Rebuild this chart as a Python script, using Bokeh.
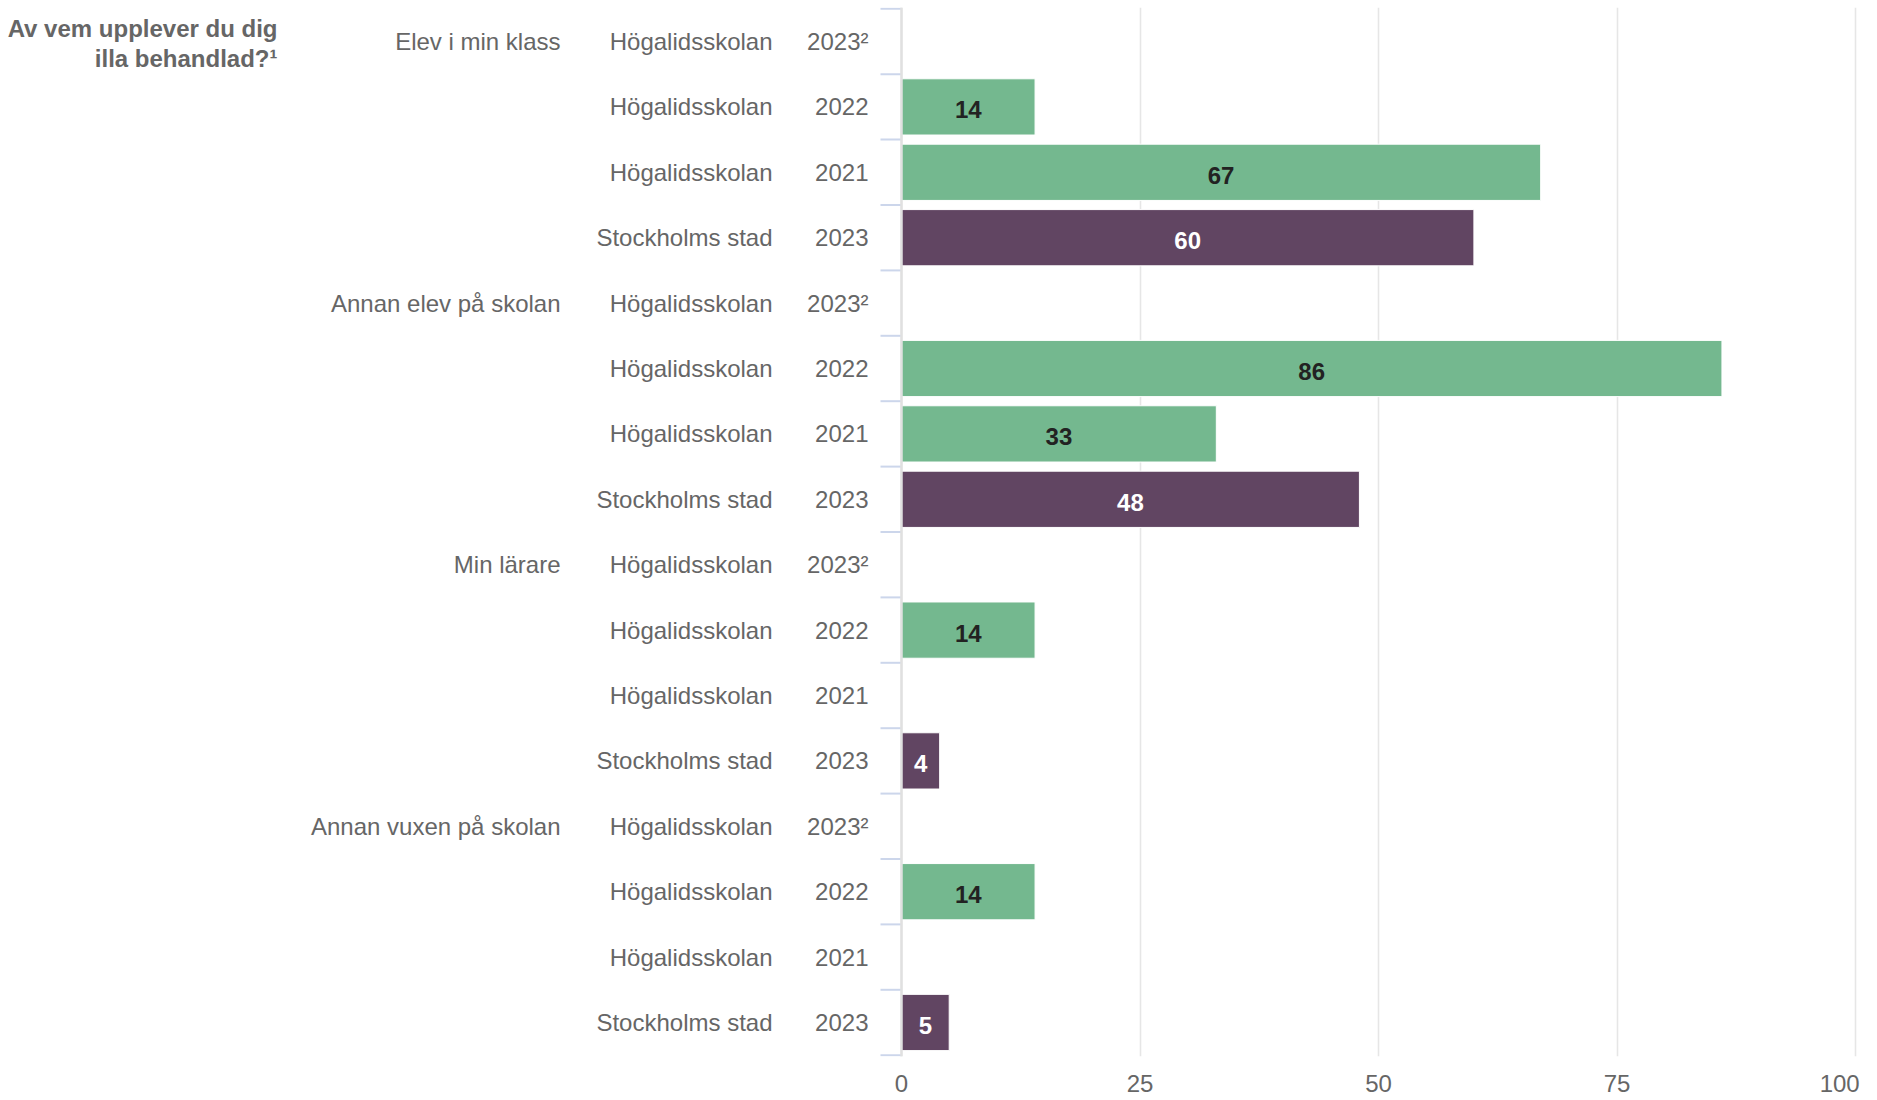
from bokeh.plotting import figure
from bokeh.models import ColumnDataSource, FixedTicker, Range1d, Span, Label
from bokeh.core.properties import value
from bokeh.embed import file_html
from bokeh.resources import INLINE

# ---- data ----
groups = ["Elev i min klass", "Annan elev på skolan", "Min lärare", "Annan vuxen på skolan"]
units = ["Högalidsskolan", "Högalidsskolan", "Högalidsskolan", "Stockholms stad"]
years = ["2023²", "2022", "2021", "2023"]
elev_i_min_klass = [None, 14, 67, 60]
annan_elev_pa_skolan = [None, 86, 33, 48]
min_larare = [None, 14, None, 4]
annan_vuxen_pa_skolan = [None, 14, None, 5]
x_ticks = [0, 25, 50, 75, 100]
title_lines = ["Av vem upplever du dig", "illa behandlad?¹"]

series = [elev_i_min_klass, annan_elev_pa_skolan, min_larare, annan_vuxen_pa_skolan]

# ---- styles ----
FONT = value("Liberation Sans")
GRAY = "#666666"
GREEN = "#74b88f"
PURPLE = "#614562"
unit_color = {"Högalidsskolan": GREEN, "Stockholms stad": PURPLE}
unit_label_color = {"Högalidsskolan": "#222222", "Stockholms stad": "#ffffff"}

W, H = 1876, 1100
MB_L, MB_R, MB_T, MB_B = 0, 16, 7, 44
PX = 9.54            # pixels per unit on x
ZERO_PX = 901        # px from frame left to x=0
frame_w = W - MB_L - MB_R
x_start = -ZERO_PX / PX
x_end = x_start + frame_w / PX

n_rows = len(groups) * len(units)

# ---- rows ----
rows_y, rows_year, rows_unit, rows_group = [], [], [], []
bar_y, bar_v, bar_c, bar_mid, bar_txt, bar_tc = [], [], [], [], [], []
for gi, g in enumerate(groups):
    for j in range(len(units)):
        r = gi * len(units) + j
        rows_y.append(r)
        rows_year.append(years[j])
        rows_unit.append(units[j])
        rows_group.append(g if j == 0 else "")
        v = series[gi][j]
        if v is not None:
            bar_y.append(r)
            bar_v.append(v)
            bar_c.append(unit_color[units[j]])
            bar_mid.append(v / 2)
            bar_txt.append(str(v))
            bar_tc.append(unit_label_color[units[j]])

p = figure(width=W, height=H, output_backend="svg", toolbar_location=None,
           x_range=Range1d(x_start, x_end),
           y_range=Range1d(n_rows - 0.48, -0.52),
           y_axis_location=None, min_border=0,
           min_border_left=MB_L, min_border_right=MB_R,
           min_border_top=MB_T, min_border_bottom=MB_B)
p.outline_line_color = None
p.background_fill_color = "white"
p.border_fill_color = "white"

ticker = FixedTicker(ticks=x_ticks)
p.xaxis.ticker = ticker
p.xaxis.axis_line_color = None
p.xaxis.major_tick_line_color = None
p.xaxis.major_tick_out = 0
p.xaxis.major_tick_in = 0
p.xaxis.minor_tick_line_color = None
p.xaxis.minor_tick_out = 0
p.xaxis.major_label_text_font = "Liberation Sans"
p.xaxis.major_label_text_font_size = "24px"
p.xaxis.major_label_text_color = GRAY
p.xaxis.major_label_standoff = 13
# last label pulled left of its grid line (spaces pad the right side)
p.xaxis.major_label_overrides = {x_ticks[-1]: str(x_ticks[-1]) + "\u2002\u2009"}
p.xgrid.ticker = ticker
p.xgrid.grid_line_color = "#e6e6e6"
p.xgrid.grid_line_width = 1.6
p.ygrid.grid_line_color = None

# bars
bsrc = ColumnDataSource(dict(y=bar_y, v=bar_v, c=bar_c, mid=bar_mid, t=bar_txt, tc=bar_tc))
p.hbar(y="y", left=0, right="v", height=0.86, fill_color="c", line_color="white",
       line_width=1, source=bsrc)
p.text(x="mid", y="y", text="t", text_color="tc", text_align="center",
       text_baseline="middle", y_offset=3, text_font=FONT, text_font_size="24px",
       text_font_style="bold", source=bsrc)

# axis line and category ticks (between categories)
p.add_layout(Span(location=0, dimension="height", line_color="#e0e0e0", line_width=2.5))
bounds = [k - 0.5 for k in range(n_rows + 1)]
p.segment(x0=[-21 / PX] * len(bounds), y0=bounds, x1=[0] * len(bounds), y1=bounds,
          line_color="#ccd6eb", line_width=2)

# category labels
lsrc = ColumnDataSource(dict(x=[0] * n_rows, y=rows_y, year=rows_year,
                             unit=rows_unit, group=rows_group))
common = dict(text_align="right", text_baseline="middle", text_font=FONT,
              text_font_size="24px", text_color=GRAY, source=lsrc)
p.text(x="x", y="y", text="year", x_offset=-33, **common)
p.text(x="x", y="y", text="unit", x_offset=-129, **common)
p.text(x="x", y="y", text="group", x_offset=-341, **common)

# header
for i, line in enumerate(title_lines):
    p.add_layout(Label(x=0, y=-0.52, x_offset=-624, y_offset=-21 - 30 * i, text=line,
                       text_align="right", text_baseline="middle",
                       text_font="Liberation Sans", text_font_size="24px",
                       text_font_style="bold", text_color=GRAY))

open("out.html", "w").write(file_html(p, INLINE))
